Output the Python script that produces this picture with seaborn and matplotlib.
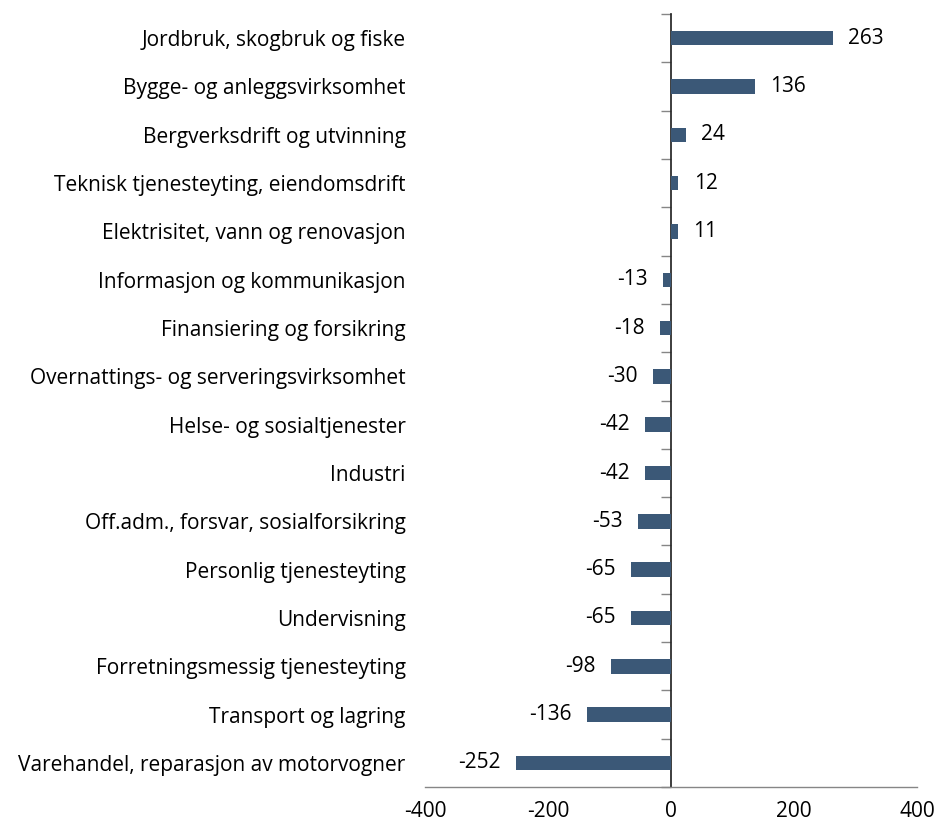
import numpy as np
import pandas as pd
import matplotlib.pyplot as plt
import seaborn as sns

# Næringer og endring
naeringer = [
    "Jordbruk, skogbruk og fiske",
    "Bygge- og anleggsvirksomhet",
    "Bergverksdrift og utvinning",
    "Teknisk tjenesteyting, eiendomsdrift",
    "Elektrisitet, vann og renovasjon",
    "Informasjon og kommunikasjon",
    "Finansiering og forsikring",
    "Overnattings- og serveringsvirksomhet",
    "Helse- og sosialtjenester",
    "Industri",
    "Off.adm., forsvar, sosialforsikring",
    "Personlig tjenesteyting",
    "Undervisning",
    "Forretningsmessig tjenesteyting",
    "Transport og lagring",
    "Varehandel, reparasjon av motorvogner",
]
endring = [263, 136, 24, 12, 11, -13, -18, -30, -42, -42, -53, -65, -65, -98, -136, -252]
x_ticks = [-400, -200, 0, 200, 400]

df = pd.DataFrame({"naering": naeringer, "endring": endring})

sns.set_theme(style="white")
plt.rcParams['font.family'] = ['Open Sans', 'DejaVu Sans']
plt.rcParams['text.color'] = 'black'
plt.rcParams['xtick.labelcolor'] = 'black'
plt.rcParams['ytick.labelcolor'] = 'black'

fig = plt.figure(figsize=(9.39, 8.25), dpi=100)
ax = fig.add_axes([0.4526, 0.046, 0.524, 0.937])

bar_color = "#3b5877"
axis_color = "#868686"
fs = 15

sns.barplot(data=df, x="endring", y="naering", orient="h", color=bar_color,
            width=0.3, saturation=1, linewidth=0, ax=ax)

for c in ax.containers:
    ax.bar_label(c, labels=[str(v) for v in endring], padding=11, fontsize=fs,
                 color="black")

ax.set_xlim(-400, 400)
ax.set_ylim(len(naeringer) - 0.5, -0.5)
ax.set_xticks(x_ticks)
ax.set_xticklabels([str(t) for t in x_ticks], fontsize=fs)
ax.set_xlabel("")
ax.set_ylabel("")

# kategorinavn til venstre, uten streker
ax.tick_params(axis="y", length=0, pad=14, labelsize=fs, labelcolor="black")
ax.tick_params(axis="x", length=7, width=1, color=axis_color, direction="out",
               pad=3, labelcolor="black")

for side in ["left", "right", "top"]:
    ax.spines[side].set_visible(False)
ax.spines["bottom"].set_color(axis_color)
ax.spines["bottom"].set_linewidth(1)

# vertikal akse ved null med streker mellom kategoriene
sec = ax.secondary_yaxis(0.5)
sec.set_yticks(np.arange(len(naeringer) + 1) - 0.5)
sec.set_yticklabels([])
sec.yaxis.set_ticks_position("left")
sec.tick_params(axis="y", length=7, width=1, color=axis_color, direction="out")
sec.spines["left"].set_color(axis_color)
sec.spines["left"].set_linewidth(1)

fig.savefig("out.png", dpi=100)
